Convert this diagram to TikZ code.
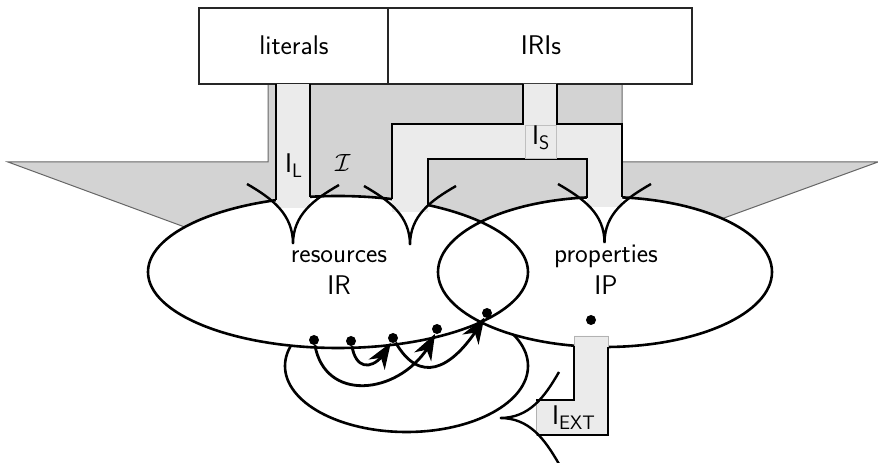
\documentclass[tikz,border=0pt]{standalone}
\usepackage{fontspec}
\usetikzlibrary{arrows.meta,bending}

\definecolor{funnel}{HTML}{D3D3D3}
\definecolor{band}{HTML}{EBEBEB}

% sans subscript, lowered a little
\newcommand{\lowsub}[1]{\raisebox{-4.5pt}{\fontsize{19.5}{19.5}\selectfont #1}}

\begin{document}
\begin{tikzpicture}[x=1pt,y=1pt,
  lbl/.style={font=\fontsize{27}{32}\selectfont\sffamily, inner sep=0pt},
  setbox/.style={draw=black!85, line width=1.3pt, fill=white, minimum height=76pt, lbl},
  outline/.style={line width=2.6pt},
  bandedge/.style={line width=2.8pt},
  cusp/.style={line width=2.4pt},
  elem/.style={circle, fill=black, inner sep=0pt, minimum size=10pt},
  map/.style={line width=2.8pt, -{Stealth[length=26pt,width=19pt,inset=8pt]}},
]
\useasboundingbox (0,0) rectangle (878,463);

% grey funnel behind everything
\fill[funnel, draw=black!60, line width=1pt]
  (268,379) -- (268,301) -- (8,301) -- (220,223) -- (680,229)
  -- (878,301) -- (622,301) -- (622,379) -- cycle;

% the two source boxes
\node[setbox, minimum width=189pt] (lit) at (293.5,417) {};
\node[setbox, minimum width=304pt] (iri) at (540,417) {};
\node[lbl, anchor=base] (littext) at (294,408) {literals};
\node[lbl, anchor=base] (iritext) at (541,408) {IRIs};

% lower ellipse (partly hidden)
\coordinate (low) at (406.5,97);
\filldraw[fill=white, outline] (low) ellipse [x radius=121.5, y radius=66];

% resources and properties
\coordinate (res) at (338,191);
\coordinate (prop) at (605,191);
\fill[white] (res) ellipse [x radius=190, y radius=76];
\fill[white] (prop) ellipse [x radius=167, y radius=75];
\draw[outline] (res) ellipse [x radius=190, y radius=76];
\draw[outline] (prop) ellipse [x radius=167, y radius=75];

% light bands
\fill[band] (276,379) rectangle (310,255);
\fill[band] (523,379) -- (557,379) -- (557,339) -- (622,339) -- (622,256)
  -- (587,256) -- (587,304) -- (428,304) -- (428,251) -- (392,251)
  -- (392,339) -- (523,339) -- cycle;
\filldraw[fill=band, draw=black!30, line width=0.8pt]
  (574,127) -- (608,127) -- (608,28) -- (536,28) -- (536,63) -- (574,63) -- cycle;

% band edges
\draw[bandedge] (276,379) -- (276,263);
\draw[bandedge] (310,379) -- (310,266);
\draw[bandedge] (523,379) -- (523,339) -- (392,339) -- (392,264);
\draw[bandedge] (557,379) -- (557,339) -- (622,339) -- (622,266);
\draw[bandedge] (428,258) -- (428,304) -- (587,304) -- (587,265);
\draw[bandedge] (574,117) -- (574,63) -- (536,63);
\draw[bandedge] (608,116) -- (608,28) -- (537,28);

% cusps where the bands open onto the sets
\draw[cusp] (247,279) to[out=-30,in=90] (293,219) to[out=90,in=-150] (339,278);
\draw[cusp] (364,277) to[out=-30,in=90] (410,218) to[out=90,in=-150] (456,277);
\draw[cusp] (558,279) to[out=-30,in=90] (604.5,220) to[out=90,in=-150] (651,279);
\draw[cusp] (559,91) to[out=-120,in=0] (500,45) to[out=0,in=120] (559,-1);

% labels
\node[lbl, anchor=base west] (il) at (285,290) {I\lowsub{L}};
\node[lbl, anchor=base west] (interp) at (335,291) {$\mathcal{I}$};
\node[draw=black!25, fill=band, line width=0.6pt, minimum width=31pt,
      minimum height=33pt, inner sep=0pt] (isbox) at (540.5,321.5) {};
\node[lbl, anchor=base west] (is) at (532,318) {I\lowsub{S}};
\node[lbl, anchor=base west] (iext) at (552,38) {I\lowsub{EXT}};
\node[lbl, anchor=base] (resname) at (339,200) {resources};
\node[lbl, anchor=base] (resset) at (339,168) {IR};
\node[lbl, anchor=base] (propname) at (606,200) {properties};
\node[lbl, anchor=base] (propset) at (606,168) {IP};

% elements and the property extension arrows
\node[elem] (d1) at (314,123) {};
\node[elem] (d2) at (351,122) {};
\node[elem] (d3) at (393,125) {};
\node[elem] (d4) at (437,134) {};
\node[elem] (d5) at (487,150) {};
\node[elem] (p) at (591,143) {};

\draw[map] (d1) to[out=-80,in=-112,looseness=1.35] (d4);
\draw[map] (d2) to[out=-80,in=-115,looseness=1.9] (d3);
\draw[map] (d3) to[out=-60,in=-120,looseness=1.5] (d5);
\end{tikzpicture}
\end{document}
